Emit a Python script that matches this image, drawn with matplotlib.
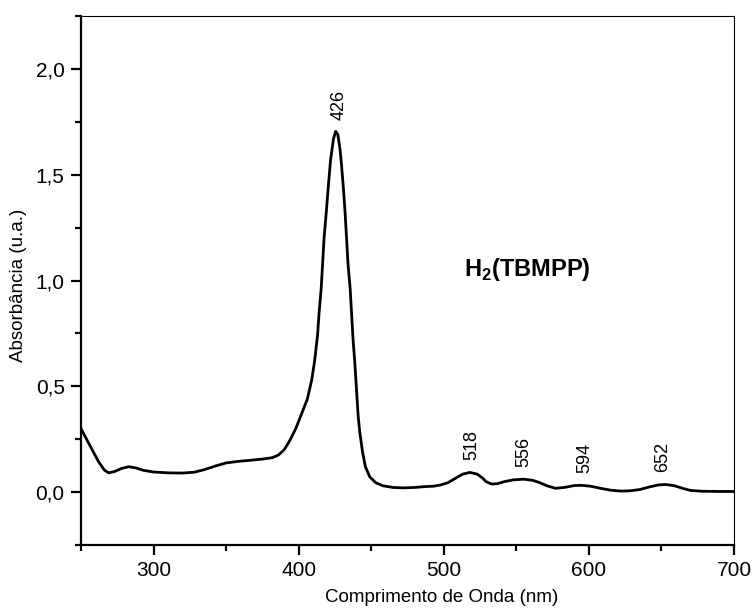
import numpy as np
import matplotlib
matplotlib.use("Agg")
import matplotlib.pyplot as plt
from matplotlib.ticker import MultipleLocator, FuncFormatter

plt.rcParams['font.family'] = ['Liberation Sans', 'DejaVu Sans']
plt.rcParams['mathtext.fontset'] = 'custom'
plt.rcParams['mathtext.rm'] = 'Liberation Sans'
plt.rcParams['mathtext.bf'] = 'Liberation Sans:bold'

# spectrum
wavelength = [250, 255, 258.5, 262, 266, 269, 273, 278, 283, 288, 293, 300, 310, 320,
              328, 335, 342, 350, 358, 366, 375, 382, 386, 390, 394, 398, 402, 406,
              409, 411, 413, 414, 415.5, 416.5, 417.5, 419, 420.5, 422, 424, 425.5,
              427, 428.5, 429.5, 431, 432, 433, 434, 435.5, 436.5, 437.5, 438.7, 440,
              441, 442, 444, 446, 449, 453, 458, 465, 472, 480, 487, 493, 498, 503,
              508, 513, 518, 523, 527, 529, 533, 537, 542, 548, 555, 561, 566, 571,
              577, 583, 590, 595, 601, 608, 615, 622, 628, 635, 642, 648, 653, 659,
              665, 670, 678, 690, 700]
absorbance = [0.30, 0.235, 0.19, 0.145, 0.105, 0.091, 0.097, 0.112, 0.120, 0.114, 0.103,
              0.095, 0.091, 0.090, 0.094, 0.106, 0.122, 0.138, 0.145, 0.150, 0.156,
              0.163, 0.175, 0.20, 0.245, 0.30, 0.37, 0.44, 0.53, 0.62, 0.74, 0.84,
              0.96, 1.08, 1.20, 1.32, 1.45, 1.57, 1.67, 1.705, 1.69, 1.62, 1.55, 1.42,
              1.32, 1.20, 1.08, 0.96, 0.84, 0.72, 0.61, 0.47, 0.36, 0.29, 0.19, 0.12,
              0.072, 0.045, 0.030, 0.022, 0.020, 0.022, 0.026, 0.028, 0.034, 0.045,
              0.065, 0.085, 0.093, 0.085, 0.065, 0.050, 0.038, 0.040, 0.050, 0.058,
              0.061, 0.056, 0.045, 0.030, 0.018, 0.022, 0.031, 0.032, 0.028, 0.018,
              0.009, 0.005, 0.006, 0.012, 0.025, 0.034, 0.036, 0.030, 0.017, 0.008,
              0.004, 0.003, 0.003]

peaks = [426, 518, 556, 594, 652]
peak_label_x = [428, 519, 555, 597, 651]

fig = plt.figure(figsize=(7.54, 6.08), dpi=100)
ax = fig.add_axes([0.1074, 0.1036, 0.8661, 0.8701])

ax.plot(wavelength, absorbance, color='black', lw=2.0, solid_joinstyle='round')

for p, lx in zip(peaks, peak_label_x):
    yv = np.interp(p, wavelength, absorbance)
    ax.annotate(str(p), xy=(lx, yv), xytext=(0, 9), textcoords='offset points',
                rotation=90, ha='center', va='bottom', fontsize=13)

ax.text(514, 1.05, r'H$_\mathbf{2}$(TBMPP)', fontsize=17, fontweight='bold',
        ha='left', va='center')

ax.set_xlim(250, 700)
ax.set_ylim(-0.25, 2.25)
ax.xaxis.set_major_locator(MultipleLocator(100))
ax.xaxis.set_minor_locator(MultipleLocator(50))
ax.yaxis.set_major_locator(MultipleLocator(0.5))
ax.yaxis.set_minor_locator(MultipleLocator(0.25))
ax.yaxis.set_major_formatter(FuncFormatter(lambda v, pos: f'{v:.1f}'.replace('.', ',')))

ax.tick_params(which='both', direction='out', top=False, right=False, width=1.6,
               labelsize=15, pad=4.5)
ax.tick_params(which='major', length=7.2)
ax.tick_params(which='minor', length=4.3)

for s in ['left', 'bottom']:
    ax.spines[s].set_linewidth(1.6)
for s in ['top', 'right']:
    ax.spines[s].set_linewidth(0.8)

ax.set_xlabel('Comprimento de Onda (nm)', fontsize=13.5)
ax.set_ylabel('Absorbância (u.a.)', fontsize=13.5)
ax.xaxis.set_label_coords(0.553, -0.083)
ax.yaxis.set_label_coords(-0.083, 0.49)

fig.savefig('out.png', dpi=100)
